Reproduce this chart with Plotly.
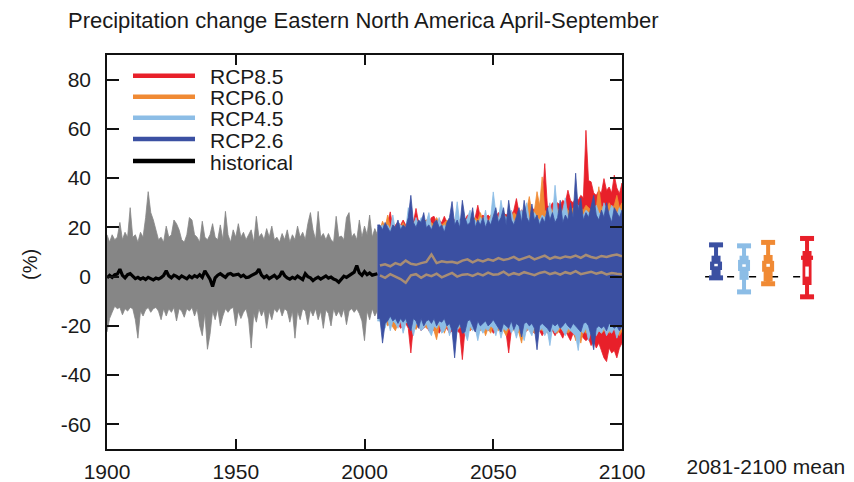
import plotly.graph_objects as go

# ---------------- data ----------------
hist_years = list(range(1900, 2006))
hist_hi = [17, 14, 17, 15, 16, 22, 15, 18, 16, 28,
           16, 17, 14, 18, 16, 24, 34.5, 26, 23, 19,
           15, 16, 14, 20.5, 16, 17, 23, 21.5, 19, 15,
           14, 17, 24, 23, 17, 16, 14, 22.5, 16, 15,
           17, 21.5, 16, 15, 21, 15, 26.5, 17, 14, 19,
           16, 21.5, 16, 18, 15, 17, 19, 14, 24.5, 16,
           17.5, 15, 19.5, 16, 20.5, 15, 16, 14, 17.5, 15,
           19, 14, 17, 15, 20.5, 16, 18, 15, 21.5, 26,
           19, 15, 26.5, 16, 17.5, 15, 17.5, 15, 14, 24.5,
           16, 16.5, 15, 24, 26, 16, 17.5, 15, 23, 16,
           20.5, 17, 25, 16, 19.5, 17]
hist_lo = [-22.5, -17, -14.5, -12, -13, -12.5, -15.5, -13, -14, -12.5,
           -13, -17.5, -25, -14, -16, -13.5, -12.5, -14.5, -13, -12.5,
           -14, -17.5, -13, -16, -13, -14.5, -12.5, -18, -13, -14,
           -16.5, -13, -14, -12.5, -16, -13, -20, -24, -15, -29.5,
           -23.5, -14, -17.5, -13, -20, -16, -13, -14.5, -13, -12.5,
           -20, -14, -17, -14.5, -13, -17.5, -29, -15, -18.5, -13,
           -16, -13.5, -21, -14, -17.5, -13, -14.5, -12.5, -16, -13,
           -14, -18.5, -14, -25, -14, -17.5, -13, -14, -19.5, -13.5,
           -16, -13, -17.5, -14, -21, -13.5, -15, -20, -13, -16,
           -14, -16.5, -13, -19.5, -14, -13, -14.5, -13, -15, -18,
           -26, -14, -17.5, -13, -16, -14]
hist_mean = [-0.5, 0.5, -0.3, 0.8, 1.0, 3.0, 0.5, -0.5, 0.8, 1.2,
             0.2, -0.8, -0.3, -1.0, -0.5, -1.2, -0.3, -0.8, -1.3, -0.6,
             -1.0, -0.4, 0.5, 2.4, 0.3, -0.5, 0.6, 0.1, -0.7, 0.3,
             -0.4, -0.9, 0.2, -0.5, 0.4, -0.2, 0.8, -0.3, 2.4, 0.5,
             -1.0, -4.0, -0.5, 0.6, 1.2, 0.4, -0.3, 1.0, 1.3, 0.5,
             0.8, 1.0, 0.0, 0.6, -0.4, -0.2, 0.4, 0.8, 1.5, 3.0,
             0.6, -0.4, 0.3, -0.8, -0.2, 0.5, -0.6, 0.2, 2.2, 0.4,
             -0.5, -1.0, -0.3, -0.8, 0.2, -0.4, -1.2, 1.2, 0.0, -0.5,
             -1.6, -0.8, -0.2, -1.0, -0.5, 0.3, -0.6, -0.2, -1.0, -1.4,
             -2.3, -0.8, 0.2, -0.3, 0.5, 1.0, 1.8, 4.5, 1.5, 0.5,
             2.0, 0.8, 1.5, 0.6, 1.0, 1.2]

fut_years = list(range(2006, 2101))
rcp26_hi = [21, 19, 22, 20, 18, 21, 20, 23, 19, 21,
            20, 24, 33, 22, 20, 23, 22, 26, 20, 21,
            19, 22, 23, 20, 21, 18, 22, 24, 30.5, 21,
            23, 20, 31, 24, 21, 22, 28, 20, 23, 21,
            24, 20, 23, 21, 25, 28, 22, 24, 28, 21,
            31, 23, 21, 25, 28, 22, 31, 24, 22, 29.5,
            23, 25, 21, 24, 22, 28, 23, 26, 22, 24,
            31, 22, 25, 23, 30, 24, 42, 27, 32, 23,
            26, 24, 28, 33, 25, 23, 27, 24, 30, 25,
            22, 28, 26, 24, 27]
rcp26_lo = [-17, -27, -19, -18, -16, -18, -17, -19, -17, -18.5,
            -17, -20, -22, -17, -18, -21, -17, -20, -18, -17.5,
            -19, -17, -20, -18, -18.5, -17, -20, -19, -22, -33,
            -21, -19, -23, -22.5, -18, -17.5, -20, -22.5, -18, -20,
            -19, -18, -20, -19, -17.5, -19, -21, -22.5, -19, -20,
            -21, -18, -21.5, -19, -20, -24.5, -19, -18.5, -20, -19,
            -21, -29.7, -20, -19, -20, -21, -22.5, -19, -20, -19,
            -21, -20, -18.5, -20, -21, -19, -20, -21, -22.5, -19,
            -18.5, -20, -24, -29.7, -21, -20, -21, -20, -22, -19,
            -20, -21, -20, -22, -20]
rcp45_hi = [20, 21, 20, 21, 19, 25, 19, 22, 21, 20,
            19, 28, 24, 21, 24, 21, 24, 23, 22, 26,
            20, 21, 21, 24, 20, 21, 20, 23, 25, 22,
            30.4, 22, 25, 22, 24, 27, 23, 23, 21, 24,
            22, 27, 21, 24, 34.4, 26, 23, 31, 25, 24,
            25, 27, 22, 24, 26, 27, 25, 30, 23, 24,
            26, 24, 23, 25, 24, 26, 30, 24, 37.1, 26,
            25, 27, 32, 24, 26, 25, 30, 29, 26, 25,
            27, 26, 25, 27, 29, 26, 25, 30, 27, 26,
            29, 27, 25, 28, 26]
rcp45_lo = [-18, -20, -21, -17, -22, -18, -19, -21, -18, -23,
            -19, -18, -20, -24, -19, -20, -22, -21, -19, -22,
            -24, -20, -21, -19, -23, -22, -19, -24, -20, -27,
            -22, -20, -21, -23, -26, -20, -22, -21, -26, -21,
            -23, -21, -22, -20, -21, -24, -20, -25, -21, -22,
            -20, -23, -21, -25, -21, -22, -26, -21, -22, -24,
            -20, -23, -22, -21, -24, -22, -28, -21, -23, -22,
            -20, -22, -24, -21, -22, -23, -24, -30, -22, -23,
            -21, -26, -22, -23, -24, -22, -23, -21, -24, -22,
            -23, -21, -25, -22, -21]
rcp60_hi = [19, 22.5, 20, 25, 20, 21, 20, 21, 20, 22,
            20, 22, 23, 22, 23, 22, 21, 22, 23, 21,
            22, 21, 24, 22, 21, 22, 23, 21, 24, 22,
            24, 22, 23, 22, 23, 25, 22, 24, 23, 26,
            23, 24, 22, 25, 24, 25, 24, 25, 26, 24,
            25, 24, 26, 25, 24, 26, 25, 27, 32.5, 26,
            27, 34.5, 29, 40.5, 27, 26, 28, 27, 26, 27,
            28, 26, 29, 27, 26, 28, 27, 26, 28, 27,
            29, 28, 27, 29, 28, 36.5, 28, 29, 27, 30,
            28, 29, 33, 28, 30]
rcp60_lo = [-17, -19, -18, -20, -19, -20.5, -22, -19, -18, -20,
            -19, -18, -21, -20, -21.5, -19, -20, -19, -21, -20,
            -18, -22, -25.6, -20, -19, -23, -20, -21, -19, -24,
            -20, -21, -20, -21, -19, -22, -20, -21, -20, -22,
            -20, -24, -21, -23, -20, -21, -22, -20, -22, -24,
            -21, -20, -22, -21, -23, -27, -21, -22, -20, -21,
            -23, -22, -21, -22, -21, -23, -22, -21, -22, -23,
            -21, -22, -21, -23, -22, -21, -26, -23, -27, -22,
            -23, -22, -21, -23, -22, -21, -23, -22, -21, -23,
            -22, -21, -23, -24, -22]
rcp85_hi = [18, 20, 21, 22, 26.3, 20, 21, 22, 21, 23,
            21, 22, 24, 22, 27.7, 22, 23, 22, 23, 22,
            24, 24.5, 22, 23, 22, 24.5, 22, 23, 24, 23,
            24, 23, 24, 23, 25, 24, 23, 24, 29, 24,
            25, 24, 25, 24, 25, 24, 26, 25, 26, 25,
            26, 25, 27, 31.7, 26, 27, 26, 28, 27, 28,
            27, 29, 28, 30, 45.9, 29, 28, 30, 29, 30,
            29, 31, 30, 35.1, 31, 30, 32, 31, 33, 32,
            59.4, 39, 38.5, 34, 33, 35, 34, 39.8, 35, 36.4,
            34, 41.2, 36, 33.7, 38]
rcp85_lo = [-16, -18, -19, -18, -20, -19, -20, -19, -21, -20,
            -19, -21, -31, -20, -21, -20, -22, -21, -20, -22,
            -21, -22, -21, -23, -21, -22, -21, -23, -22, -24,
            -22, -23, -33.7, -22, -21, -22, -21, -22, -23, -21,
            -22, -21, -22, -21, -23, -22, -21, -22, -21, -23,
            -31, -22, -21, -23, -22, -21, -23, -22, -21, -22,
            -23, -21, -22, -24, -22, -21, -23, -22, -24, -22,
            -23, -25, -22, -24, -26, -23, -25, -24, -23, -25,
            -26, -25, -28, -26, -29, -27, -30, -33, -34.5, -29,
            -31, -30, -33, -29, -27]

band_years = list(range(2006, 2101, 2))
band_upper = [4.5, 5.0, 4.2, 5.5, 4.8, 6.5, 5.2, 4.8, 5.5, 6.0,
              9.0, 5.5, 6.2, 5.8, 6.0, 5.5, 6.5, 7.0, 5.8, 6.8,
              6.2, 7.0, 6.5, 7.5, 6.8, 7.2, 8.0, 6.8, 7.5, 8.2,
              7.0, 7.8, 8.5, 7.2, 8.0, 7.5, 8.2, 7.8, 8.5, 7.6,
              8.8, 8.0, 7.5, 8.4, 8.0, 8.6, 9.0, 8.2]
band_lower = [0.5, -0.5, 1.0, 0.0, -1.0, -2.5, 0.5, 1.0, -0.5, 0.8,
              0.2, 1.2, -0.3, 0.6, 1.5, 0.0, 0.8, 1.0, 0.3, 1.2,
              0.5, 1.6, 0.8, 1.0, 2.0, 0.6, 1.4, 0.8, 1.8, 1.2,
              0.6, 1.5, 2.0, 1.0, 1.6, 0.8, 1.8, 1.2, 2.2, 1.0,
              1.6, 2.0, 1.2, 1.8, 0.9, 1.5, 1.2, 1.0]

# 2081-2100 mean change boxes
box_names = ["RCP2.6", "RCP4.5", "RCP6.0", "RCP8.5"]
box_whisk_lo = [-0.5, -6.2, -2.9, -8.2]
box_whisk_hi = [12.9, 12.5, 13.9, 15.5]
box_mid_lo = [-1.3, -1.3, -2.0, -3.4]
box_mid_hi = [8.5, 8.5, 8.8, 10.4]
box_wide_lo = [2.7, 2.3, 2.0, 6.8]
box_wide_hi = [6.1, 6.8, 6.4, 8.5]
box_med_lo = [4.2, 4.0, 4.0, 0.0]
box_med_hi = [5.2, 5.0, 5.2, 4.1]

legend_names = ["RCP8.5", "RCP6.0", "RCP4.5", "RCP2.6", "historical"]
x_ticks = [1900, 1950, 2000, 2050, 2100]
y_ticks = [-60, -40, -20, 0, 20, 40, 60, 80]
y_tick_text = ["-60", "-40", "-20", "0", "20", "40", "60", "80"]

# ---------------- styling ----------------
COL = {"RCP8.5": "#e8202a", "RCP6.0": "#f08a34", "RCP4.5": "#8cbde6",
       "RCP2.6": "#3b50a2", "historical": "#000000"}
GREY = "#868686"
FONT = "Liberation Sans, Arial, sans-serif"
TXT = "#1a1a1a"
OX, OY = 8, 8                 # page body margin offset of the figure div
PW, PH = 727, 394             # plot area size (window pixels)
ML = 107 - OX
MT = 55 - OY
MR = 20
MB = 33
W = ML + PW + MR
H = MT + PH + MB


def px_x(px):
    return (px - OX - ML) / PW


def px_y(py):
    return (MT + PH - (py - OY)) / PH


fig = go.Figure()


def band(xs, hi, lo, color):
    return go.Scatter(x=xs + xs[::-1], y=hi + lo[::-1], mode="lines",
                      fill="toself", fillcolor=color,
                      line=dict(color=color, width=0.8),
                      hoverinfo="skip", showlegend=False)


fig.add_trace(band(hist_years, hist_hi, hist_lo, GREY))
# scenario runs continue from the last historical year
join_year = hist_years[-1]
for name, hi, lo in [("RCP8.5", rcp85_hi, rcp85_lo), ("RCP6.0", rcp60_hi, rcp60_lo),
                     ("RCP4.5", rcp45_hi, rcp45_lo), ("RCP2.6", rcp26_hi, rcp26_lo)]:
    fig.add_trace(band([join_year] + fut_years, [hi[0]] + hi, [lo[0]] + lo, COL[name]))

for series in (band_upper, band_lower):
    fig.add_trace(go.Scatter(x=band_years, y=series, mode="lines",
                             line=dict(color="#a88d74", width=2.5),
                             showlegend=False, hoverinfo="skip"))

fig.add_trace(go.Scatter(x=hist_years, y=hist_mean, mode="lines",
                         line=dict(color="#000000", width=3.2),
                         showlegend=False))

# ---- 2081-2100 boxes (own subplot) ----
box_pos = [0.93, 1.93, 2.79, 4.18]
fig.add_trace(go.Scatter(x=[0.54, 3.95], y=[0, 0], mode="lines",
                         line=dict(color="#000000", width=1.5, dash="7px,15px"),
                         xaxis="x2", yaxis="y3", showlegend=False, hoverinfo="skip"))
for i, name in enumerate(box_names):
    c = COL[name]
    p = box_pos[i]
    fig.add_trace(go.Scatter(x=[p, p], y=[box_whisk_lo[i], box_whisk_hi[i]], mode="lines+markers",
                             line=dict(color=c, width=4),
                             marker=dict(symbol="line-ew", size=10, line=dict(color=c, width=5)),
                             xaxis="x2", yaxis="y3", showlegend=False))
    fig.add_trace(go.Scatter(x=[p, p], y=[box_mid_lo[i], box_mid_hi[i]], mode="lines",
                             line=dict(color=c, width=9),
                             xaxis="x2", yaxis="y3", showlegend=False))
    fig.add_trace(go.Scatter(x=[p, p], y=[box_wide_lo[i], box_wide_hi[i]], mode="lines",
                             line=dict(color=c, width=12),
                             xaxis="x2", yaxis="y3", showlegend=False))
    fig.add_trace(go.Scatter(x=[p, p], y=[box_med_lo[i], box_med_hi[i]], mode="lines",
                             line=dict(color="#ffffff", width=3.5),
                             xaxis="x2", yaxis="y3", showlegend=False))

# ---- legend drawn as keys + labels ----
leg_y = [75.7, 96.7, 117.7, 139.0, 161.0]
shapes = []
annotations = []
for name, yy in zip(legend_names, leg_y):
    shapes.append(dict(type="line", xref="paper", yref="paper",
                       x0=px_x(133), x1=px_x(195), y0=px_y(yy), y1=px_y(yy),
                       line=dict(color=COL[name], width=4.5)))
    annotations.append(dict(text=name, xref="paper", yref="paper",
                            x=px_x(208), y=px_y(yy + 1), xanchor="left", yanchor="middle",
                            showarrow=False, font=dict(family=FONT, size=21, color=TXT)))

annotations.append(dict(text="(%)", xref="paper", yref="paper", x=px_x(30), y=px_y(265),
                        xanchor="center", yanchor="middle", textangle=-90, showarrow=False,
                        font=dict(family=FONT, size=20, color=TXT)))

axis_common = dict(showgrid=False, zeroline=False, automargin=False,
                   tickfont=dict(family=FONT, size=21, color=TXT))

fig.update_layout(
    width=W, height=H,
    margin=dict(l=ML, r=MR, t=MT, b=MB, autoexpand=False),
    paper_bgcolor="white", plot_bgcolor="white",
    showlegend=False,
    title=dict(text="Precipitation change Eastern North America April-September",
               x=(68 - OX) / W, xanchor="left", xref="container",
               y=1 - (20 - OY) / H, yanchor="middle", yref="container", automargin=False,
               font=dict(family=FONT, size=22, color=TXT)),
    xaxis=dict(domain=[0, px_x(622)], range=[1900, 2100], tickvals=x_ticks,
               ticks="inside", ticklen=10, tickwidth=1.5, tickcolor="#111",
               showline=True, linecolor="#111", linewidth=1.5, mirror="ticks",
               ticklabelstandoff=3, **axis_common),
    yaxis=dict(range=[-70, 90], tickvals=y_ticks, ticktext=y_tick_text,
               ticks="inside", ticklen=12, tickwidth=1.5,
               tickcolor="#111", showline=True, linecolor="#111", linewidth=1.5, mirror="ticks",
               ticklabelstandoff=10, **axis_common),
    yaxis2=dict(range=[-70, 90], tickvals=y_ticks, ticktext=y_tick_text,
                overlaying="y", side="right", anchor="x",
                ticks="", showline=False, ticklabelstandoff=14, **axis_common),
    xaxis2=dict(domain=[px_x(690), px_x(830)], range=[0, 5], anchor="y3",
                tickvals=[2.71], ticktext=["2081-2100 mean"], ticks="", showline=False,
                ticklabelstandoff=3, **axis_common),
    yaxis3=dict(domain=[0, 1], range=[-70, 90], anchor="x2", visible=False),
    shapes=shapes, annotations=annotations,
)

fig.write_html("out.html")
